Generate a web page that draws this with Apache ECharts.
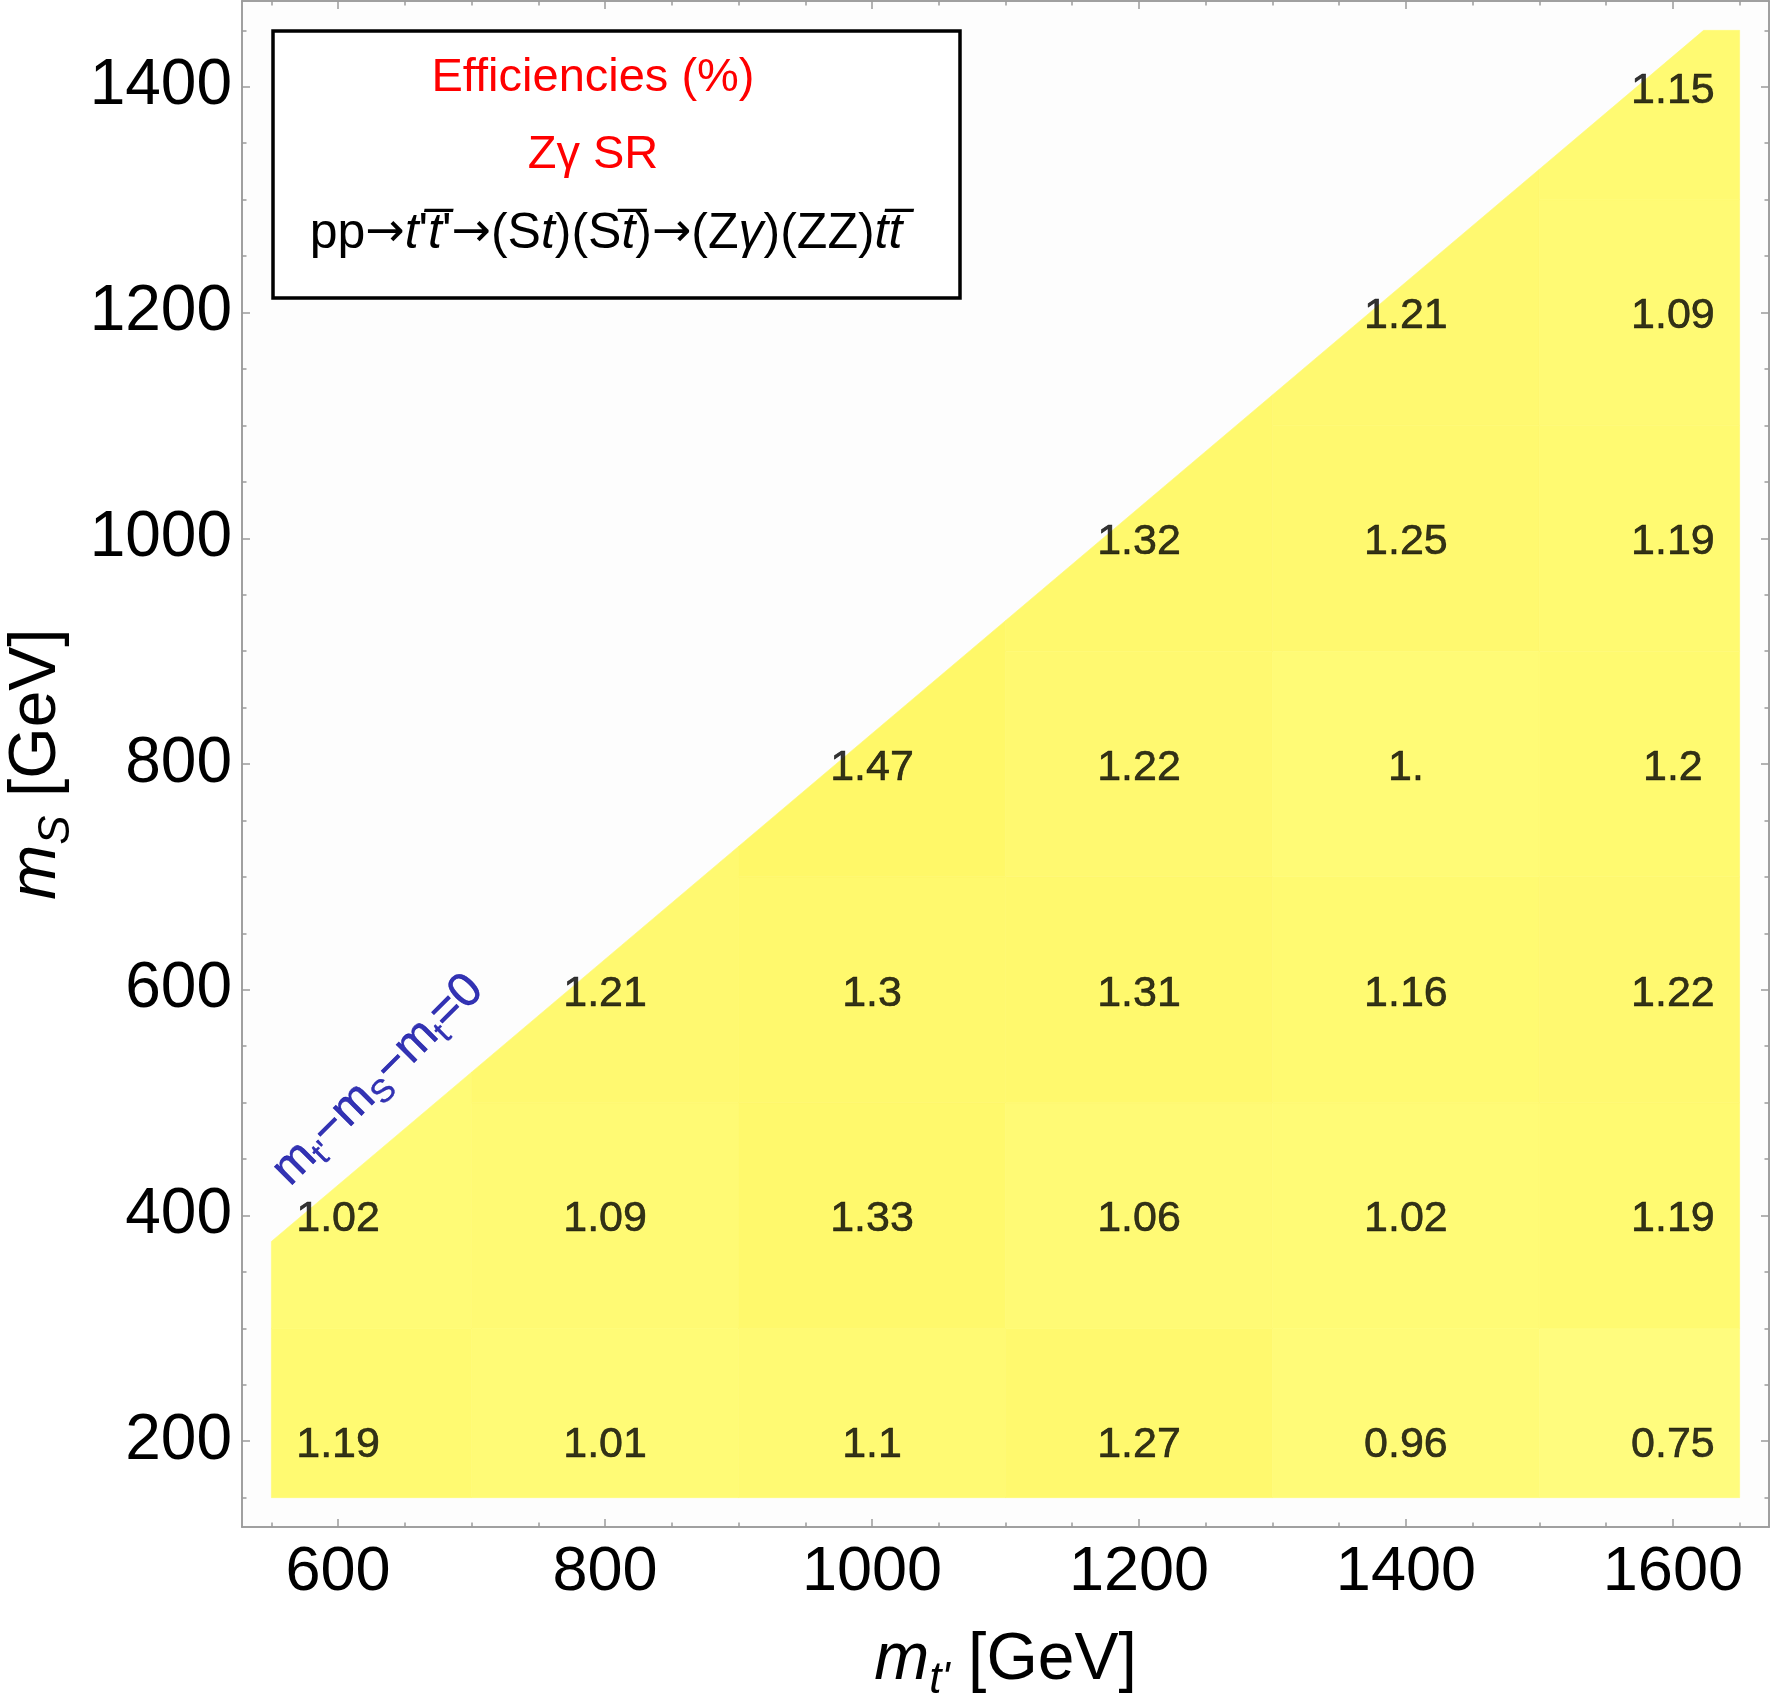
<!DOCTYPE html>
<html>
<head>
<meta charset="utf-8">
<script src="https://cdn.jsdelivr.net/npm/echarts@6/dist/echarts.min.js"></script>
<style>
  html, body { margin: 0; padding: 0; background: #fff; }
  #chart { width: 1771px; height: 1698px; }
</style>
</head>
<body>
<div id="chart"></div>
<script>
// kinematic limit m_S = m_t' - m_t
const mTop = 173;
const edgePad = 50;

const mtpValues = [600, 800, 1000, 1200, 1400, 1600];
const msValues = [200, 400, 600, 800, 1000, 1200, 1400];

// efficiencies (%) per m_t' column, from m_S = 200 upward
const eff600 = [1.19, 1.02];
const eff800 = [1.01, 1.09, 1.21];
const eff1000 = [1.1, 1.33, 1.3, 1.47];
const eff1200 = [1.27, 1.06, 1.31, 1.22, 1.32];
const eff1400 = [0.96, 1.02, 1.16, 1.0, 1.25, 1.21];
const eff1600 = [0.75, 1.19, 1.22, 1.2, 1.19, 1.09, 1.15];
const columns = [eff600, eff800, eff1000, eff1200, eff1400, eff1600];

const xMajorTicks = [600, 800, 1000, 1200, 1400, 1600];
const yMajorTicks = [200, 400, 600, 800, 1000, 1200, 1400];
const xMinorTicks = [];
for (let v = 550; v <= 1650; v += 50) xMinorTicks.push(v);
const yMinorTicks = [];
for (let v = 150; v <= 1450; v += 50) yMinorTicks.push(v);

const font = '"Liberation Sans", Arial, sans-serif';
const axisGray = '#9a9a9a';

// cell bounds: midway between neighbours, top cell of a column runs up to the top
const cells = [];
mtpValues.forEach((x, i) => {
  const x0 = i === 0 ? x - edgePad : (x + mtpValues[i - 1]) / 2;
  const x1 = i === mtpValues.length - 1 ? x + edgePad : (x + mtpValues[i + 1]) / 2;
  const col = columns[i];
  col.forEach((v, j) => {
    const y = msValues[j];
    const y0 = j === 0 ? y - edgePad : (y + msValues[j - 1]) / 2;
    const y1 = j === col.length - 1 ? msValues[msValues.length - 1] + edgePad : (y + msValues[j + 1]) / 2;
    cells.push([x, y, v, x0, x1, y0, y1]);
  });
});

// keep only the part of a polygon below m_S = m_t' - m_t
function clipBelowDiagonal(pts) {
  const f = p => p[0] - mTop - p[1];
  const out = [];
  for (let i = 0; i < pts.length; i++) {
    const a = pts[i], b = pts[(i + 1) % pts.length];
    const fa = f(a), fb = f(b);
    if (fa >= 0) out.push(a);
    if ((fa >= 0) !== (fb >= 0)) {
      const t = fa / (fa - fb);
      out.push([a[0] + t * (b[0] - a[0]), a[1] + t * (b[1] - a[1])]);
    }
  }
  return out;
}

function fmt(v) {
  return Number.isInteger(v) ? v + '.' : String(v);
}

function xAxisDef(position, ticks, len, withLabel) {
  return {
    type: 'value', position, min: 528, max: 1672,
    axisLine: { show: true, lineStyle: { color: axisGray, width: 1.5 } },
    axisTick: { show: true, inside: true, length: len, customValues: ticks, lineStyle: { color: axisGray, width: 1.5 } },
    axisLabel: withLabel
      ? { show: true, customValues: ticks, formatter: v => String(v), fontSize: 63, color: '#000', fontFamily: font, margin: 14 }
      : { show: false },
    splitLine: { show: false }
  };
}
function yAxisDef(position, ticks, len, withLabel) {
  return {
    type: 'value', position, min: 124, max: 1476,
    axisLine: { show: true, lineStyle: { color: axisGray, width: 1.5 } },
    axisTick: { show: true, inside: true, length: len, customValues: ticks, lineStyle: { color: axisGray, width: 1.5 } },
    axisLabel: withLabel
      ? { show: true, customValues: ticks, formatter: v => String(v), fontSize: 64, color: '#000', fontFamily: font, margin: 10 }
      : { show: false },
    splitLine: { show: false }
  };
}

const nameRich = {
  i: { fontStyle: 'italic', fontSize: 66, fontFamily: font, color: '#000', lineHeight: 84, verticalAlign: 'middle' },
  n: { fontSize: 66, fontFamily: font, color: '#000', lineHeight: 84, verticalAlign: 'middle' },
  sub: { fontStyle: 'italic', fontSize: 44, fontFamily: font, color: '#000', lineHeight: 44, verticalAlign: 'bottom' }
};

const xAxes = [
  xAxisDef('bottom', xMajorTicks, 8, true),
  xAxisDef('bottom', xMinorTicks, 4.5, false),
  xAxisDef('top', xMajorTicks, 8, false),
  xAxisDef('top', xMinorTicks, 4.5, false)
];
Object.assign(xAxes[0], {
  name: "{i|m}{sub|t'}{n| [GeV]}", nameLocation: 'middle', nameGap: 92,
  nameTextStyle: { rich: nameRich }
});
const yAxes = [
  yAxisDef('left', yMajorTicks, 8, true),
  yAxisDef('left', yMinorTicks, 4.5, false),
  yAxisDef('right', yMajorTicks, 8, false),
  yAxisDef('right', yMinorTicks, 4.5, false)
];
Object.assign(yAxes[0], {
  name: '{i|m}{sub|S}{n| [GeV]}', nameLocation: 'middle', nameGap: 149, nameRotate: 90,
  nameTextStyle: { rich: nameRich }
});

const chart = echarts.init(document.getElementById('chart'), null, { renderer: 'canvas' });
chart.setOption({
  animation: false,
  backgroundColor: '#fff',
  grid: {
    left: 242, right: 2, top: 1, bottom: 171,
    containLabel: false, outerBoundsMode: 'none',
    show: true, backgroundColor: '#fdfdfd', borderWidth: 0
  },
  xAxis: xAxes,
  yAxis: yAxes,
  visualMap: {
    show: false, type: 'continuous', seriesIndex: 0, dimension: 2,
    min: 0.75, max: 1.47,
    inRange: { color: ['#fffc7e', '#fff868'] }
  },
  series: [
    {
      type: 'custom',
      silent: true,
      data: cells,
      renderItem(params, api) {
        const x0 = api.value(3), x1 = api.value(4), y0 = api.value(5), y1 = api.value(6);
        const pts = clipBelowDiagonal([[x0, y0], [x1, y0], [x1, y1], [x0, y1]]).map(p => api.coord(p));
        const color = api.visual('color');
        return {
          type: 'polygon',
          shape: { points: pts },
          style: { fill: color, stroke: color, lineWidth: 0.6 }
        };
      }
    },
    {
      type: 'scatter',
      silent: true,
      symbolSize: 1,
      itemStyle: { color: 'rgba(0,0,0,0)' },
      data: cells.map(c => [c[0], c[1], c[2]]),
      label: {
        show: true, position: 'inside', offset: [0, 4],
        formatter: p => fmt(p.value[2]),
        fontSize: 43, fontFamily: font, color: '#000',
        textBorderColor: '#000', textBorderWidth: 0.6
      }
    },
    {
      type: 'scatter',
      silent: true,
      symbolSize: 1,
      itemStyle: { color: 'rgba(0,0,0,0)' },
      data: [[630, 520]],
      label: {
        show: true, position: 'inside', rotate: 45,
        formatter: "{n|m}{s|t'}{n|\u2212m}{s|S}{n|\u2212m}{s|t}{n|=0}",
        rich: {
          n: { fontSize: 48, fontFamily: font, color: '#0000a0', lineHeight: 58, verticalAlign: 'middle', textBorderColor: '#0000a0', textBorderWidth: 0.6 },
          s: { fontSize: 32, fontFamily: font, color: '#0000a0', lineHeight: 32, verticalAlign: 'bottom', textBorderColor: '#0000a0', textBorderWidth: 0.5 }
        }
      }
    }
  ],
  graphic: [
    {
      type: 'rect', z: 100,
      shape: { x: 273, y: 31, width: 687, height: 267 },
      style: { fill: '#fff', stroke: '#000', lineWidth: 3.5 }
    },
    {
      type: 'text', z: 101, x: 593, y: 78,
      style: { text: 'Efficiencies (%)', fill: '#ff0000', font: '47px ' + font, textAlign: 'center', textVerticalAlign: 'middle' }
    },
    {
      type: 'text', z: 101, x: 593, y: 155,
      style: { text: 'Z\u03b3 SR', fill: '#ff0000', font: '47px ' + font, textAlign: 'center', textVerticalAlign: 'middle' }
    },
    {
      type: 'text', z: 101, x: 606, y: 234,
      style: {
        text: "{n|pp}{a|\u2192}{i|t}{n|'}{i|t\u0305}{n|'}{a|\u2192}{n|(S}{i|t}{n|)(S}{i|t\u0305}{n|)}{a|\u2192}{n|(Z}{i|\u03b3}{n|)(ZZ)}{i|tt\u0305}",
        textAlign: 'center', textVerticalAlign: 'middle',
        rich: {
          n: { fontSize: 50, fontFamily: font, fill: '#000' },
          i: { fontSize: 50, fontFamily: font, fontStyle: 'italic', fill: '#000' },
          a: { fontSize: 47, fontFamily: '"DejaVu Sans"', fill: '#000' }
        }
      }
    }
  ]
});
</script>
</body>
</html>
